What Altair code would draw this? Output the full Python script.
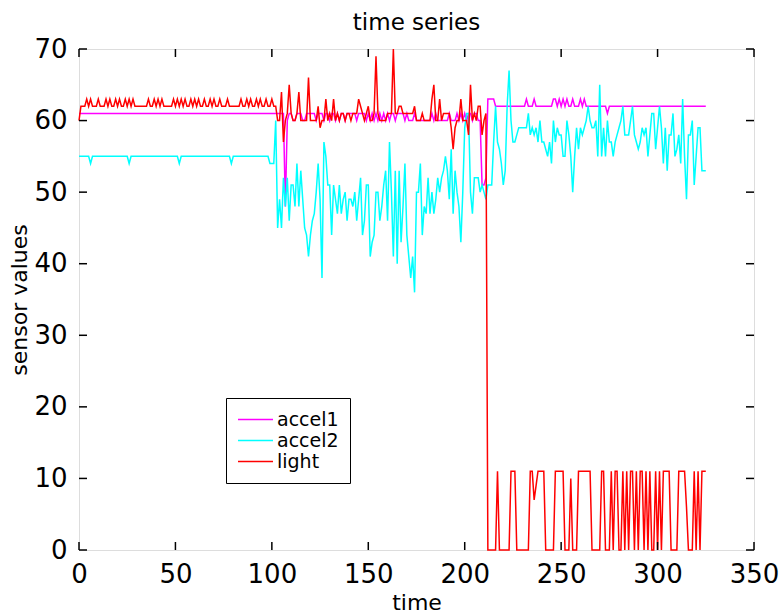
import altair as alt
import pandas as pd

series_names = ["accel1", "accel2", "light"]
series_colors = ["#ff00ff", "#00ffff", "#ff0000"]
x_ticks = [0, 50, 100, 150, 200, 250, 300, 350]
y_ticks = [0, 10, 20, 30, 40, 50, 60, 70]

accel1 = [
    61, 61, 61, 61, 61, 61, 61, 61, 61, 61,
    61, 61, 61, 61, 61, 61, 61, 61, 61, 61,
    61, 61, 61, 61, 61, 61, 61, 61, 61, 61,
    61, 61, 61, 61, 61, 61, 61, 61, 61, 61,
    61, 61, 61, 61, 61, 61, 61, 61, 61, 61,
    61, 61, 61, 61, 61, 61, 61, 61, 61, 61,
    61, 61, 61, 61, 61, 61, 61, 61, 61, 61,
    61, 61, 61, 61, 61, 61, 61, 61, 61, 61,
    61, 61, 61, 61, 61, 61, 61, 61, 61, 61,
    61, 61, 61, 61, 61, 61, 61, 61, 61, 61,
    61, 61, 61, 61, 61, 61, 61, 48, 60, 61,
    61, 60, 60, 61, 61, 61, 60, 60, 61, 61,
    61, 61, 61, 60, 61, 61, 61, 60, 61, 61,
    60, 61, 61, 60, 61, 60, 61, 61, 60, 61,
    61, 61, 61, 61, 60, 61, 61, 61, 61, 60,
    61, 60, 61, 60, 61, 60, 61, 60, 61, 60,
    61, 60, 61, 61, 60, 61, 61, 61, 61, 60,
    61, 60, 60, 60, 61, 60, 60, 60, 60, 60,
    60, 60, 60, 61, 60, 61, 60, 60, 60, 60,
    60, 60, 61, 60, 60, 60, 61, 60, 61, 60,
    61, 60, 61, 61, 60, 61, 61, 60, 60, 51,
    51, 52, 63, 63, 63, 63, 62, 62, 62, 62,
    62, 62, 62, 62, 62, 62, 62, 62, 62, 62,
    62, 62, 63, 62, 62, 62, 63, 62, 62, 62,
    62, 62, 62, 62, 62, 62, 63, 63, 62, 63,
    62, 63, 62, 63, 62, 62, 63, 62, 62, 62,
    63, 62, 63, 62, 62, 62, 62, 62, 62, 62,
    62, 62, 62, 62, 61, 62, 62, 62, 62, 62,
    62, 62, 62, 62, 62, 62, 62, 62, 62, 62,
    62, 62, 62, 62, 62, 62, 62, 62, 62, 62,
    62, 62, 62, 62, 62, 62, 62, 62, 62, 62,
    62, 62, 62, 62, 62, 62, 62, 62, 62, 62,
    62, 62, 62, 62, 62, 62,
]

accel2 = [
    55, 55, 55, 55, 55, 55, 54, 55, 55, 55,
    55, 55, 55, 55, 55, 55, 55, 55, 55, 55,
    55, 55, 55, 55, 55, 55, 54, 55, 55, 55,
    55, 55, 55, 55, 55, 55, 55, 55, 55, 55,
    55, 55, 55, 55, 55, 55, 55, 55, 55, 55,
    55, 55, 54, 55, 55, 55, 55, 55, 55, 55,
    55, 55, 55, 55, 55, 55, 55, 55, 55, 55,
    55, 55, 55, 55, 55, 55, 55, 55, 55, 54,
    55, 55, 55, 55, 55, 55, 55, 55, 55, 55,
    55, 55, 55, 55, 55, 55, 55, 55, 55, 54,
    54, 54, 60, 45, 49, 45, 52, 48, 52, 46,
    51, 51, 48, 54, 48, 53, 49, 45, 44, 41,
    44, 46, 47, 50, 54, 49, 38, 57, 55, 51,
    51, 44, 51, 49, 47, 51, 47, 49, 50, 46,
    49, 49, 48, 50, 46, 49, 52, 44, 46, 51,
    51, 41, 43, 44, 50, 50, 46, 48, 51, 53,
    46, 57, 50, 41, 53, 40, 53, 43, 48, 54,
    44, 41, 38, 41, 36, 50, 50, 54, 44, 48,
    47, 52, 47, 50, 47, 49, 52, 50, 52, 53,
    55, 53, 49, 56, 47, 53, 50, 48, 43, 50,
    59, 61, 61, 50, 47, 52, 52, 52, 50, 51,
    50, 49, 51, 51, 51, 57, 62, 57, 56, 54,
    51, 53, 62, 67, 60, 57, 57, 58, 59, 59,
    59, 59, 59, 61, 58, 59, 58, 59, 57, 60,
    57, 57, 56, 55, 57, 54, 60, 57, 59, 58,
    58, 55, 55, 60, 58, 55, 50, 55, 59, 56,
    59, 58, 59, 60, 62, 60, 59, 59, 60, 55,
    65, 55, 59, 55, 60, 57, 57, 55, 57, 58,
    59, 60, 62, 58, 58, 58, 60, 62, 58, 57,
    56, 57, 59, 58, 59, 55, 58, 61, 61, 56,
    59, 62, 59, 54, 59, 53, 58, 58, 61, 55,
    56, 58, 54, 63, 55, 49, 58, 58, 60, 51,
    55, 59, 59, 53, 53, 53,
]

light = [
    60, 62, 62, 62, 63, 62, 63, 62, 62, 62,
    63, 62, 62, 62, 63, 62, 63, 62, 62, 63,
    62, 63, 62, 62, 63, 62, 63, 62, 63, 62,
    62, 62, 62, 62, 62, 62, 63, 62, 62, 63,
    62, 63, 62, 63, 62, 62, 62, 62, 62, 63,
    62, 63, 62, 63, 62, 63, 62, 62, 63, 62,
    63, 62, 63, 62, 62, 63, 62, 62, 63, 62,
    63, 62, 62, 63, 62, 62, 62, 63, 62, 62,
    62, 62, 62, 62, 63, 62, 62, 63, 62, 63,
    62, 62, 63, 62, 63, 62, 62, 63, 62, 62,
    63, 62, 62, 60, 60, 64, 57, 60, 61, 65,
    61, 60, 60, 61, 64, 60, 60, 60, 60, 66,
    60, 60, 60, 60, 62, 59, 60, 60, 63, 60,
    61, 60, 63, 60, 61, 60, 61, 61, 60, 61,
    61, 60, 61, 61, 61, 63, 62, 61, 60, 61,
    62, 60, 60, 61, 69, 61, 60, 60, 60, 60,
    61, 61, 61, 70, 61, 61, 62, 62, 61, 61,
    61, 61, 61, 61, 62, 60, 60, 60, 61, 60,
    60, 60, 60, 63, 65, 60, 60, 63, 60, 61,
    61, 61, 61, 59, 56, 59, 60, 60, 63, 60,
    60, 60, 58, 65, 60, 61, 60, 62, 62, 58,
    60, 61, 0, 0, 0, 0, 0, 11, 0, 0,
    0, 0, 0, 0, 11, 11, 11, 0, 0, 0,
    0, 0, 0, 0, 11, 11, 7, 9, 11, 11,
    11, 11, 0, 0, 0, 0, 0, 11, 11, 11,
    11, 11, 0, 0, 0, 10, 0, 0, 0, 11,
    11, 11, 11, 11, 11, 11, 0, 0, 0, 0,
    0, 11, 11, 0, 0, 0, 11, 0, 11, 11,
    0, 0, 11, 0, 11, 0, 11, 11, 0, 11,
    0, 11, 11, 0, 11, 0, 11, 0, 0, 11,
    0, 11, 0, 11, 11, 11, 11, 0, 0, 0,
    0, 11, 11, 11, 11, 6, 0, 0, 0, 11,
    0, 11, 0, 11, 11, 11,
]

rows = []
for name, vals in zip(series_names, [accel1, accel2, light]):
    for i, v in enumerate(vals):
        rows.append({"time": i, "value": v, "series": name})
df = pd.DataFrame(rows)

FONT = "DejaVu Sans"
W, H, TL = 675, 501, 8
xscale = alt.Scale(domain=[0, 350], nice=False, zero=False)
yscale = alt.Scale(domain=[0, 70], nice=False)

lines = alt.Chart(df).mark_line(strokeWidth=1.5).encode(
    x=alt.X("time:Q", scale=xscale,
            axis=alt.Axis(orient="bottom", values=x_ticks, title="time",
                          ticks=False, domain=False, grid=False,
                          labelFontSize=26, labelFont=FONT, labelColor="black",
                          labelPadding=11, labelFlush=False,
                          titleFont=FONT, titleFontSize=22,
                          titleFontWeight="normal", titleColor="black",
                          titlePadding=5)),
    y=alt.Y("value:Q", scale=yscale,
            axis=alt.Axis(orient="left", values=y_ticks, title="sensor values",
                          ticks=False, domain=False, grid=False,
                          labelFontSize=26, labelFont=FONT, labelColor="black",
                          labelPadding=12, labelFlush=False,
                          titleFont=FONT, titleFontSize=22,
                          titleFontWeight="normal", titleColor="black",
                          titlePadding=2)),
    color=alt.Color("series:N",
                    scale=alt.Scale(domain=series_names, range=series_colors),
                    legend=alt.Legend(
                        orient="none", legendX=147, legendY=349, title=None,
                        strokeColor="black", fillColor="white", padding=11,
                        symbolType="stroke", symbolSize=1225,
                        symbolStrokeWidth=1.5, labelFontSize=19,
                        labelFont=FONT, labelColor="black", labelOffset=3,
                        clipHeight=21, rowPadding=0)),
)

xt = pd.DataFrame({"time": x_ticks})
yt = pd.DataFrame({"value": y_ticks})
tick_style = dict(color="black", strokeWidth=1.5)

bottom_ticks = alt.Chart(xt).mark_rule(**tick_style).encode(
    x=alt.X("time:Q", scale=xscale), y=alt.value(H), y2=alt.value(H - TL))
top_ticks = alt.Chart(xt).mark_rule(**tick_style).encode(
    x=alt.X("time:Q", scale=xscale), y=alt.value(0), y2=alt.value(TL))
left_ticks = alt.Chart(yt).mark_rule(**tick_style).encode(
    y=alt.Y("value:Q", scale=yscale), x=alt.value(0), x2=alt.value(TL))
right_ticks = alt.Chart(yt).mark_rule(**tick_style).encode(
    y=alt.Y("value:Q", scale=yscale), x=alt.value(W), x2=alt.value(W - TL))

chart = alt.layer(
    lines, bottom_ticks, top_ticks, left_ticks, right_ticks
).properties(
    width=W, height=H,
    title=alt.TitleParams("time series", font=FONT, fontSize=23,
                          fontWeight="normal", color="black", offset=1),
    padding={"left": 79, "top": 49, "right": 25, "bottom": 66},
    autosize="none",
).configure_view(stroke="black", strokeWidth=1.5).configure(background="white")

chart.save("out.html", embed_options={"renderer": "svg", "actions": False})
